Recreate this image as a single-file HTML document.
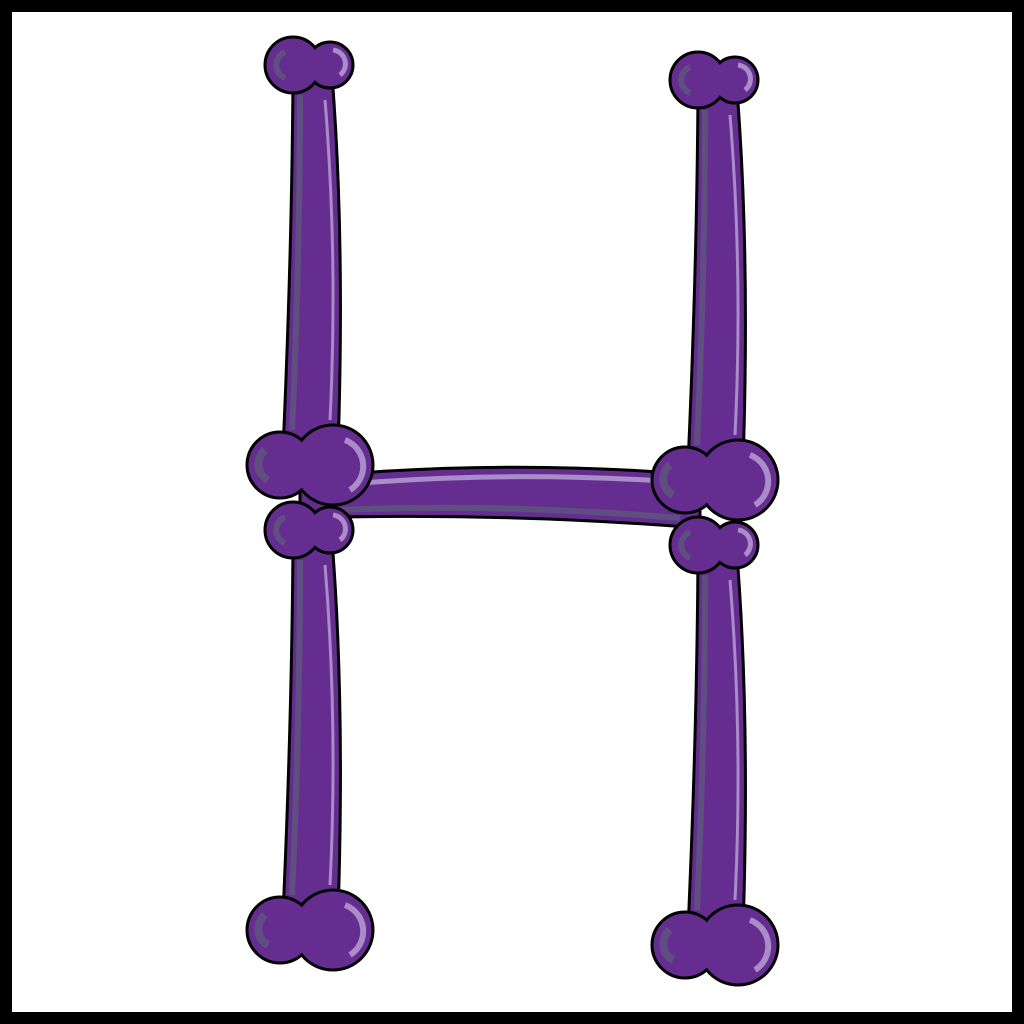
<!DOCTYPE html>
<html><head><meta charset="utf-8"><style>
html,body{margin:0;padding:0;background:#000;}
svg{display:block}
</style></head><body>
<svg width="1024" height="1024" viewBox="0 0 1024 1024">
<rect x="0" y="0" width="1024" height="1024" fill="#000"/>
<rect x="12" y="12" width="1000" height="1000" fill="#fff"/>
<g stroke="#000" stroke-width="3" stroke-linejoin="round">
<g>
<path d="M300,478 Q500,458 700,475 L700,528 Q500,512 300,518 Z" fill="#662d91"/>
<path d="M340,485 Q500,470 680,482" fill="none" stroke="#a98cc8" stroke-width="5"/>
<path d="M340,510 Q500,503 680,518" fill="none" stroke="#5e4f80" stroke-width="6"/>
</g>
<g id="bone">
<path d="M293,75 L332,75 Q345,240 338,450 L283,450 Q292,250 293,75 Z" fill="#662d91"/>
<path d="M300,95 Q300,260 292,430" fill="none" stroke="#5e4f80" stroke-width="6"/>
<path d="M325,100 Q338,260 330,420" fill="none" stroke="#a98cc8" stroke-width="3"/>
<g fill="#000" stroke="#000" stroke-width="3">
<circle cx="293" cy="65" r="28"/>
<circle cx="330" cy="65" r="23"/>
<circle cx="280" cy="465" r="33"/>
<circle cx="333" cy="465" r="40"/>
</g>
<g fill="#662d91" stroke="none">
<circle cx="293" cy="65" r="26.5"/>
<circle cx="330" cy="65" r="21.5"/>
<circle cx="280" cy="465" r="31.5"/>
<circle cx="333" cy="465" r="38.5"/>
</g>
<path d="M333,50 A14,14 0 0 1 340,75" fill="none" stroke="#a98cc8" stroke-width="5"/>
<path d="M285,52 A14,14 0 0 0 285,78" fill="none" stroke="#5e4f80" stroke-width="6"/>
<path d="M345,440 A28,28 0 0 1 350,490" fill="none" stroke="#a98cc8" stroke-width="6"/>
<path d="M265,450 A18,18 0 0 0 268,480" fill="none" stroke="#5e4f80" stroke-width="8"/>
</g>
</g>
<g stroke="#000" stroke-width="3">
<use href="#bone" transform="translate(0,465)"/>
<use href="#bone" transform="translate(405,15)"/>
<use href="#bone" transform="translate(405,480)"/>
</g>
</svg>
</body></html>
